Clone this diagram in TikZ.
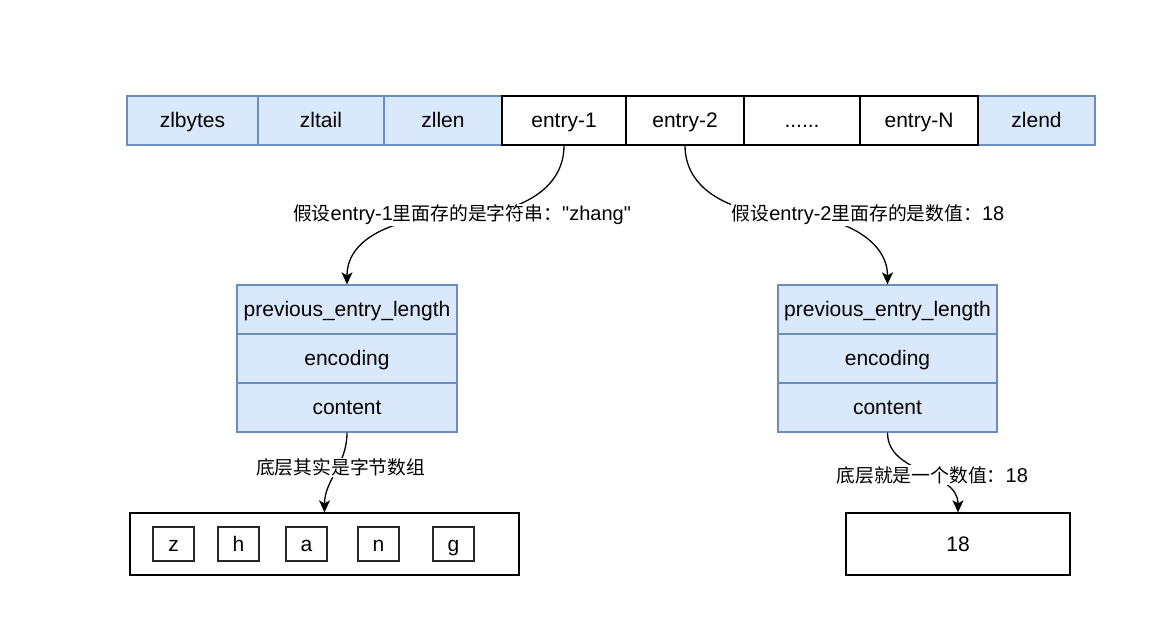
\documentclass[tikz,border=0pt]{standalone}
\usepackage{fontspec}
\setmainfont{Liberation Sans}[Ligatures=TeXOff]
\newfontfamily\cjk[Scale=0.94]{Noto Sans CJK SC}
\usetikzlibrary{arrows.meta}
\definecolor{bfill}{HTML}{DAE8FC}
\definecolor{bline}{HTML}{6C8EBF}
\begin{document}
\begin{tikzpicture}[x=1pt,y=-1pt,
  font=\fontsize{20}{24}\selectfont,
  boxtext/.style={font=\fontsize{21}{25}\selectfont, text height=16pt, text depth=2pt},
  bluebox/.style={boxtext, draw=bline, fill=bfill, line width=1.3pt, inner sep=0pt, minimum height=49pt},
  plainbox/.style={boxtext, draw=black, fill=white, line width=1.3pt, inner sep=0pt, minimum height=49pt},
  letterbox/.style={boxtext, draw=black!85, fill=white, line width=1.3pt, inner sep=0pt, minimum width=41pt, minimum height=34pt},
  lbl/.style={fill=white, inner sep=1pt, text=black},
  conn/.style={line width=1.3pt, -{Stealth[length=12pt,width=11pt,inset=3pt]}}
]
\useasboundingbox (0,0) rectangle (1153,640);
% top row
\node[bluebox, minimum width=131pt] (zlbytes) at (192.5,120.5) {zlbytes};
\node[bluebox, minimum width=126pt] (zltail) at (321,120.5) {zltail};
\node[bluebox, minimum width=118pt] (zllen) at (443,120.5) {zllen};
\node[bluebox, minimum width=117pt] (zlend) at (1036.5,120.5) {zlend};
\node[plainbox, minimum width=124pt] (e1) at (564,120.5) {entry-1};
\node[plainbox, minimum width=118pt] (e2) at (685,120.5) {entry-2};
\node[plainbox, minimum width=116pt] (dots) at (802,120.5) {......};
\node[plainbox, minimum width=118pt] (eN) at (919,120.5) {entry-N};
% left entry structure
\node[bluebox, minimum width=220pt] (p1) at (347,309.5) {previous\_entry\_length};
\node[bluebox, minimum width=220pt] (n1) at (347,358.5) {encoding};
\node[bluebox, minimum width=220pt] (c1) at (347,407.5) {content};
% right entry structure
\node[bluebox, minimum width=219pt] (p2) at (887.5,309.5) {previous\_entry\_length};
\node[bluebox, minimum width=219pt] (n2) at (887.5,358.5) {encoding};
\node[bluebox, minimum width=219pt] (c2) at (887.5,407.5) {content};
% bottom boxes
\node[plainbox, minimum width=389pt, minimum height=62pt] (bytes) at (324.5,544) {};
\node[letterbox] (lz) at (173.5,544) {z};
\node[letterbox] (lh) at (238.5,544) {h};
\node[letterbox] (la) at (306.5,544) {a};
\node[letterbox] (ln) at (378.5,544) {n};
\node[letterbox] (lg) at (453.5,544) {g};
\node[plainbox, minimum width=224pt, minimum height=62pt] (num) at (958,544) {18};
% connectors
\coordinate (m1) at (462,215);
\coordinate (m2) at (790,215);
\draw[conn] (e1.south) to[out=-90,in=0] (m1) to[out=180,in=90] (p1.north);
\node[lbl] (t1) at (462,215) {{\cjk 假设}entry-1{\cjk 里面存的是字符串：}\char34 zhang\char34};
\draw[conn] (e2.south) to[out=-90,in=180] (m2) to[out=0,in=90] (p2.north);
\node[lbl] (t2) at (868,215) {{\cjk 假设}entry-2{\cjk 里面存的是数值：}18};
\draw[conn] (c1.south) to[out=-90,in=90] node[lbl, pos=0.5, xshift=5pt, yshift=5pt] (t3) {\cjk 底层其实是字节数组} (bytes.north);
\draw[conn] (c2.south) to[out=-90,in=90] node[lbl, pos=0.5, xshift=9.5pt, yshift=-2.5pt] (t4) {{\cjk 底层就是一个数值：}18} (num.north);
\end{tikzpicture}
\end{document}
